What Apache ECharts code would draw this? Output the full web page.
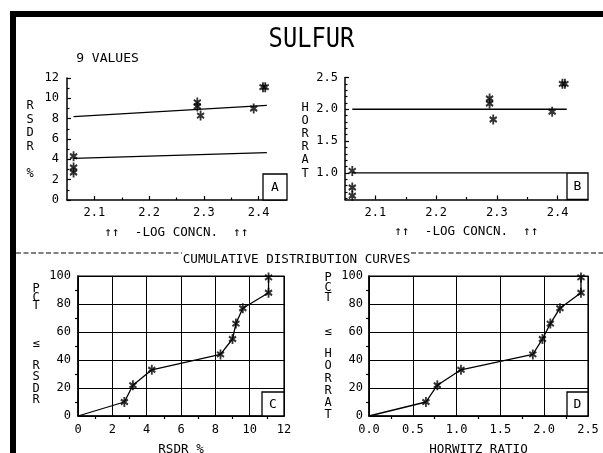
<!DOCTYPE html>
<html>
<head>
<meta charset="utf-8">
<script src="https://cdn.jsdelivr.net/npm/echarts@6/dist/echarts.min.js"></script>
<style>
  html, body { margin: 0; padding: 0; background: #fff; }
  #chart { width: 603px; height: 453px; }
</style>
</head>
<body>
<div id="chart"></div>
<script>
// Sulfur collaborative study: precision vs. concentration and cumulative distributions

// Individual laboratory results (-log concentration, RSDR %, HORRAT)
const sampleLogConc = [2.062, 2.062, 2.062, 2.288, 2.288, 2.294, 2.391, 2.408, 2.412];
const sampleRsdr    = [4.3, 3.2, 2.7, 9.6, 9.2, 8.3, 9.0, 11.1, 11.1];
const sampleHorrat  = [1.03, 0.77, 0.64, 2.17, 2.09, 1.84, 1.96, 2.40, 2.40];

// Reference lines: predicted RSD and twice predicted RSD, HORRAT 1 and 2
const refLogConc   = [2.062, 2.415];
const rsdrTwice    = [8.2, 9.3];
const rsdrPredict  = [4.1, 4.65];
const horratTwo    = [2.0, 2.0];
const horratOne    = [1.0, 1.0];

// Cumulative distribution curves
const cumOrigin    = [0, 0];
const rsdrSorted   = [2.7, 3.2, 4.3, 8.3, 9.0, 9.2, 9.6, 11.1, 11.1];
const horratSorted = [0.65, 0.78, 1.05, 1.87, 1.98, 2.07, 2.18, 2.42, 2.42];
const cumPct       = [10, 22, 33, 44, 55, 66, 77, 88, 99];

// Tick positions
const logTicks         = [2.1, 2.2, 2.3, 2.4];
const logMinorTicks    = [2.15, 2.25, 2.35];
const horratTicks      = [1.0, 1.5, 2.0, 2.5];
const horratMinorTicks = [0.6, 0.7, 0.8, 0.9, 1.1, 1.2, 1.3, 1.4, 1.6, 1.7, 1.8, 1.9, 2.1, 2.2, 2.3, 2.4];

const INK = '#000';
const FONT = '"DejaVu Sans Mono", monospace';

// six-armed plotter asterisk
const STAR = 'path://M3.9 0L6.1 0L6.1 10L3.9 10Z' +
  'M1.22 8.45L0.12 6.55L8.78 1.55L9.88 3.45Z' +
  'M0.12 3.45L1.22 1.55L9.88 6.55L8.78 8.45Z';
const STAR_SIZE = [8, 10];

const zip = (xs, ys) => xs.map((x, i) => [x, ys[i]]);

const labelStyle = (margin, extra) => Object.assign({
  color: INK, fontFamily: FONT, fontSize: 12, margin: margin
}, extra || {});
const lineStyle = { color: INK, width: 1.5 };
const tickLine = { color: INK, width: 1.2 };
const nameStyle = { color: INK, fontFamily: FONT, fontSize: 12.6 };

function mainAxis(gridIndex, cfg) {
  return Object.assign({
    type: 'value', gridIndex: gridIndex,
    axisLine: { show: true, onZero: false, lineStyle: lineStyle },
    splitLine: { show: false }
  }, cfg);
}
function minorAxis(gridIndex, min, max, position, values) {
  return {
    type: 'value', gridIndex: gridIndex, min: min, max: max, position: position,
    axisLine: { show: false }, axisLabel: { show: false }, splitLine: { show: false },
    axisTick: { show: true, inside: true, length: 2.5, customValues: values, lineStyle: tickLine }
  };
}
const fmt1 = v => v.toFixed(1);

const gridLines = { show: true, lineStyle: { color: INK, width: 1 } };

const option = {
  animation: false,
  backgroundColor: '#fff',
  grid: [
    { left: 67,  top: 78,   width: 219, height: 122, outerBoundsMode: 'none', containLabel: false },
    { left: 345, top: 77.5, width: 243, height: 122, outerBoundsMode: 'none', containLabel: false },
    { left: 78,  top: 276,  width: 206, height: 140, outerBoundsMode: 'none', containLabel: false,
      show: true, borderColor: INK, borderWidth: 1.2 },
    { left: 369, top: 276,  width: 219, height: 140, outerBoundsMode: 'none', containLabel: false,
      show: true, borderColor: INK, borderWidth: 1.2 }
  ],
  xAxis: [
    mainAxis(0, {
      min: 2.05, max: 2.45, position: 'bottom',
      axisTick: { show: true, inside: true, length: 4, customValues: logTicks, lineStyle: tickLine },
      axisLabel: labelStyle(7, { customValues: logTicks, formatter: fmt1 }),
      name: '\u2191\u2191  -LOG CONCN.  \u2191\u2191', nameLocation: 'middle', nameGap: 26, nameTextStyle: nameStyle
    }),
    minorAxis(0, 2.05, 2.45, 'bottom', logMinorTicks),
    mainAxis(1, {
      min: 2.05, max: 2.45, position: 'bottom',
      axisTick: { show: true, inside: true, length: 4, customValues: logTicks, lineStyle: tickLine },
      axisLabel: labelStyle(7, { customValues: logTicks, formatter: fmt1 }),
      name: '\u2191\u2191  -LOG CONCN.  \u2191\u2191', nameLocation: 'middle', nameGap: 26, nameTextStyle: nameStyle
    }),
    minorAxis(1, 2.05, 2.45, 'bottom', logMinorTicks),
    mainAxis(2, {
      min: 0, max: 12, interval: 2, position: 'bottom',
      axisTick: { show: false },
      minorTick: { show: true, splitNumber: 2, length: 3, lineStyle: tickLine },
      axisLabel: labelStyle(8),
      splitLine: gridLines,
      name: 'RSDR %', nameLocation: 'middle', nameGap: 27, nameTextStyle: nameStyle
    }),
    mainAxis(3, {
      min: 0, max: 2.5, interval: 0.5, position: 'bottom',
      axisTick: { show: false },
      minorTick: { show: true, splitNumber: 2, length: 3, lineStyle: tickLine },
      axisLabel: labelStyle(8, { formatter: fmt1 }),
      splitLine: gridLines,
      name: 'HORWITZ RATIO', nameLocation: 'middle', nameGap: 27, nameTextStyle: nameStyle
    })
  ],
  yAxis: [
    mainAxis(0, {
      min: 0, max: 12, interval: 2, position: 'left',
      axisTick: { show: true, inside: true, length: 4, lineStyle: tickLine },
      minorTick: { show: true, splitNumber: 2, length: 2.5, lineStyle: tickLine },
      axisLabel: labelStyle(8)
    }),
    mainAxis(1, {
      min: 0.58, max: 2.5, position: 'left',
      axisTick: { show: true, inside: true, length: 4, customValues: horratTicks, lineStyle: tickLine },
      axisLabel: labelStyle(7, { customValues: horratTicks, formatter: fmt1 })
    }),
    minorAxis(1, 0.58, 2.5, 'left', horratMinorTicks),
    mainAxis(2, {
      min: 0, max: 100, interval: 20, position: 'left',
      axisTick: { show: false },
      minorTick: { show: true, splitNumber: 2, length: 3, lineStyle: tickLine },
      axisLabel: labelStyle(7),
      splitLine: gridLines
    }),
    mainAxis(3, {
      min: 0, max: 100, interval: 20, position: 'left',
      axisTick: { show: false },
      minorTick: { show: true, splitNumber: 2, length: 3, lineStyle: tickLine },
      axisLabel: labelStyle(6),
      splitLine: gridLines
    })
  ],
  series: [
    // A: RSDR vs -log concentration
    { type: 'line', xAxisIndex: 0, yAxisIndex: 0, data: zip(refLogConc, rsdrTwice),
      showSymbol: false, lineStyle: { color: INK, width: 1.3 }, silent: true },
    { type: 'line', xAxisIndex: 0, yAxisIndex: 0, data: zip(refLogConc, rsdrPredict),
      showSymbol: false, lineStyle: { color: INK, width: 1.3 }, silent: true },
    { type: 'scatter', xAxisIndex: 0, yAxisIndex: 0, data: zip(sampleLogConc, sampleRsdr),
      symbol: STAR, symbolSize: STAR_SIZE, itemStyle: { color: INK }, clip: false },
    // B: HORRAT vs -log concentration
    { type: 'line', xAxisIndex: 2, yAxisIndex: 1, data: zip(refLogConc, horratTwo),
      showSymbol: false, lineStyle: { color: INK, width: 1.3 }, silent: true },
    { type: 'line', xAxisIndex: 2, yAxisIndex: 1, data: zip(refLogConc, horratOne),
      showSymbol: false, lineStyle: { color: INK, width: 1.3 }, silent: true },
    { type: 'scatter', xAxisIndex: 2, yAxisIndex: 1, data: zip(sampleLogConc, sampleHorrat),
      symbol: STAR, symbolSize: STAR_SIZE, itemStyle: { color: INK }, clip: false },
    // C: cumulative RSDR
    { type: 'line', xAxisIndex: 4, yAxisIndex: 3, data: [cumOrigin].concat(zip(rsdrSorted, cumPct)),
      showSymbol: false, lineStyle: { color: INK, width: 1.3 } },
    { type: 'scatter', xAxisIndex: 4, yAxisIndex: 3, data: zip(rsdrSorted, cumPct),
      symbol: STAR, symbolSize: STAR_SIZE, itemStyle: { color: INK }, clip: false },
    // D: cumulative HORRAT
    { type: 'line', xAxisIndex: 5, yAxisIndex: 4, data: [cumOrigin].concat(zip(horratSorted, cumPct)),
      showSymbol: false, lineStyle: { color: INK, width: 1.3 } },
    { type: 'scatter', xAxisIndex: 5, yAxisIndex: 4, data: zip(horratSorted, cumPct),
      symbol: STAR, symbolSize: STAR_SIZE, itemStyle: { color: INK }, clip: false }
  ],
  graphic: []
};

// free text, frame and panel tags
function txt(text, x, y, size, extra) {
  return Object.assign({
    type: 'text', x: x, y: y, silent: true,
    style: Object.assign({
      text: text, fill: INK, fontFamily: FONT, fontSize: size,
      align: 'center', verticalAlign: 'middle', textAlign: 'center', textVerticalAlign: 'middle'
    }, (extra && extra.style) || {})
  }, extra && extra.el ? extra.el : {});
}
function stack(text, x, top, size, lh) {
  return {
    type: 'text', x: x, y: top, silent: true,
    style: { text: text, fill: INK, fontFamily: FONT, fontSize: size, lineHeight: lh,
      align: 'center', verticalAlign: 'top', textAlign: 'center', textVerticalAlign: 'top' }
  };
}
function tag(letter, x, y, w, h) {
  return [
    { type: 'rect', silent: true, shape: { x: x, y: y, width: w, height: h },
      style: { fill: '#fff', stroke: INK, lineWidth: 1.3 }, z: 10 },
    Object.assign(txt(letter, x + w / 2, y + h / 2 + 0.5, 13), { z: 11 })
  ];
}

option.graphic = [
  { type: 'rect', silent: true, shape: { x: 13, y: 14, width: 1000, height: 1000 },
    style: { fill: 'none', stroke: INK, lineWidth: 6 } },
  txt('SULFUR', 0, 0, 27, { el: { x: 311.5, y: 40, scaleX: 0.88 } }),
  txt('9 VALUES', 107.5, 59, 13),
  stack('R\nS\nD\nR\n\n%', 30, 99.25, 12, 13.5),
  stack('H\nO\nR\nR\nA\nT', 305, 100.9, 12, 13.2),
  stack('P\nC\nT', 36, 284.75, 12, 8.5),
  txt('\u2264', 36, 344, 12),
  stack('R\nS\nD\nR', 36, 360.3, 12, 11.33),
  stack('P\nC\nT', 328, 273, 12, 10),
  txt('\u2264', 328, 332, 12),
  stack('H\nO\nR\nR\nA\nT', 328, 347.9, 12, 12.2),
  { type: 'line', silent: true, shape: { x1: 16, y1: 253, x2: 182, y2: 253 },
    style: { stroke: INK, lineWidth: 1, lineDash: [5, 2.5] } },
  { type: 'line', silent: true, shape: { x1: 411, y1: 253, x2: 603, y2: 253 },
    style: { stroke: INK, lineWidth: 1, lineDash: [5, 2.5] } },
  txt('CUMULATIVE DISTRIBUTION CURVES', 296.5, 259.5, 12.6)
].concat(
  tag('A', 263, 174, 24, 26),
  tag('B', 567, 173, 21, 26.5),
  tag('C', 262, 392, 22, 24),
  tag('D', 567, 392, 21, 24)
);

const chart = echarts.init(document.getElementById('chart'));
chart.setOption(option);
</script>
</body>
</html>
